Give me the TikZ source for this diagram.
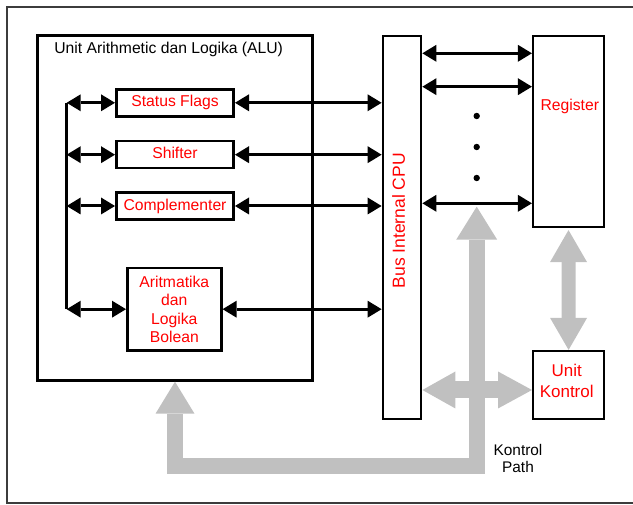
\documentclass[tikz,border=0pt]{standalone}
\usepackage{fontspec}
\setmainfont{Liberation Sans}
\usetikzlibrary{arrows.meta}

\definecolor{pathgray}{RGB}{192,192,192}
\definecolor{framegray}{RGB}{60,60,60}
\newcommand\boxfont{\fontsize{15.7}{18.4}\selectfont}

\begin{document}
\begin{tikzpicture}[
    x=1pt, y=1pt,
    unit/.style={rectangle, draw, line width=2.6pt, inner sep=0pt, text=red, font=\boxfont, align=center},
    small/.style={unit, minimum width=117.4pt, minimum height=27pt, text height=11.8pt, text depth=3.4pt},
    tall/.style={rectangle, draw, line width=2.2pt, inner sep=0pt},
    redtxt/.style={text=red, font=\boxfont, align=center},
    link/.style={line width=3pt, {Triangle[length=14pt,width=17pt,line width=0pt]}-{Triangle[length=14pt,width=17pt,line width=0pt]}},
    wide/.style={pathgray, line join=miter}
]
    \useasboundingbox (0,0) rectangle (633,505);

    % frame
    \draw[framegray, line width=1.8pt] (640,497.7) -- (7.3,497.7) -- (7.3,1.7) -- (640,1.7);

    % ALU
    \node[unit, minimum width=275pt, minimum height=345pt] (alu) at (175,297.1) {};
    \node[font=\boxfont, anchor=base] (alut) at (168.7,451.4) {Unit Arithmetic dan Logika (ALU)};
    \node[small] (sf) at (175,402.2) {Status Flags};
    \node[small] (sh) at (175,350.3) {Shifter};
    \node[small] (cm) at (175,299) {Complementer};
    \node[unit, minimum width=94pt, minimum height=82.4pt] (ab) at (174.3,195.8) {Aritmatika\\dan\\Logika\\Bolean};

    % bus, register, control unit
    \node[tall, minimum width=38.6pt, minimum height=383pt] (bus) at (402,277.5) {};
    \node[redtxt, font=\fontsize{17.5}{20}\selectfont, rotate=90] (bust) at (398.5,284.2) {Bus Internal CPU};
    \node[tall, minimum width=71pt, minimum height=191pt] (reg) at (568.5,373.5) {};
    \node[redtxt, anchor=base] (regt) at (569.8,394.4) {Register};
    \node[tall, minimum width=71pt, minimum height=68pt] (uk) at (568.6,120) {};
    \node[redtxt, font=\fontsize{17}{21}\selectfont] (ukt) at (566.7,124.5) {Unit\\Kontrol};

    % links inside the ALU
    \coordinate (lx) at (66.7,0);
    \draw[line width=3pt] (lx |- sf.west) -- (lx |- ab.west);
    \foreach \b in {sf,sh,cm,ab} {
        \draw[link] (lx |- \b.west) -- (\b.west);
        \draw[link] (\b.east) -- (bus.west |- \b.east);
    }

    % bus to register
    \foreach \yy in {451.7,418.3,301.7}
        \draw[link] (bus.east |- 0,\yy) -- (reg.west |- 0,\yy);
    \foreach \yy in {389,358,327}
        \fill (476.7,\yy) circle (3.2);

    % control paths
    \coordinate (kp) at (476.7,298.3);
    \coordinate (kbend) at (476.7,39);
    \draw[wide, line width=16pt, {Triangle[length=33pt,width=41pt,line width=0pt]}-{Triangle[length=32pt,width=39pt,line width=0pt]}] (kp) -- (kbend) -| (alu.south);
    \draw[wide, line width=17pt, {Triangle[length=33pt,width=37pt,line width=0pt]}-{Triangle[length=34pt,width=37pt,line width=0pt]}] (bus.east |- 0,115) -- (uk.west |- 0,115);
    \draw[wide, line width=14pt, shorten <=2pt, {Triangle[length=32pt,width=37pt,line width=0pt]}-{Triangle[length=32pt,width=37pt,line width=0pt]}] (reg.south) -- (uk.north);
    \node[font=\fontsize{15.4}{17}\selectfont, align=center] (kpath) at (518,46) {Kontrol\\Path};
\end{tikzpicture}
\end{document}
